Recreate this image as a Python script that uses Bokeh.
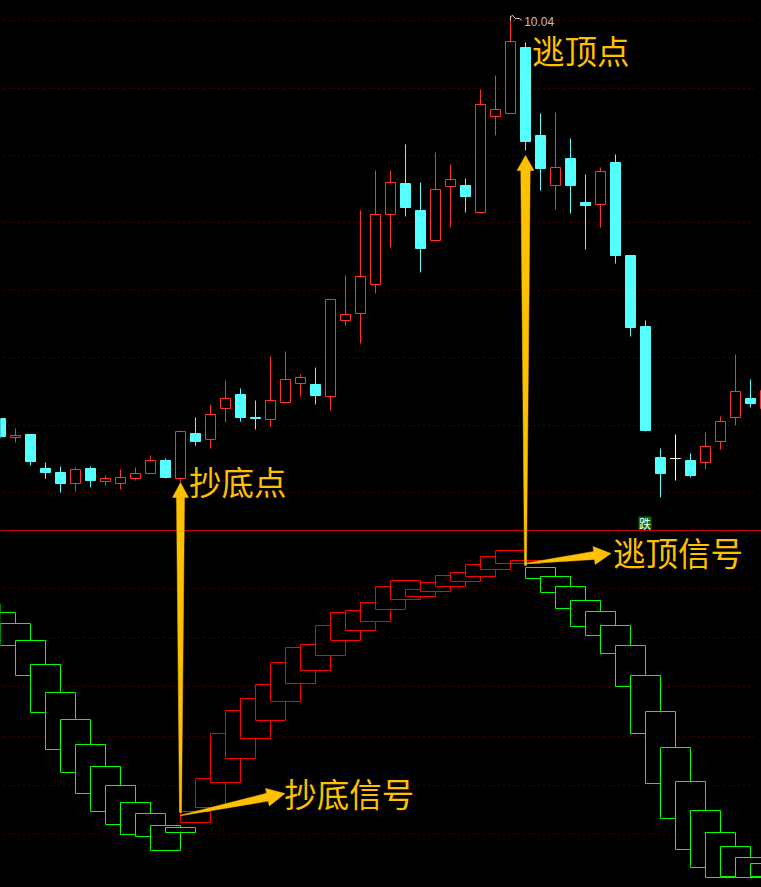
from bokeh.plotting import figure
from bokeh.models import Range1d, GlobalInlineStyleSheet
from bokeh.core.properties import value
from bokeh.embed import file_html
from bokeh.resources import INLINE

# Upper panel: daily candles (bar index = position in these lists)
opens = [6.04,5.85,5.88,5.54,5.50,5.39,5.54,5.41,5.39,5.44,5.49,5.62,5.44,5.89,5.83,6.14,6.28,6.05,6.03,6.20,
         6.39,6.38,6.26,7.02,7.09,7.38,8.08,8.39,8.12,7.82,8.36,8.37,8.10,9.06,9.09,9.75,8.87,8.37,8.64,8.20,
         8.18,8.60,7.67,6.96,5.65,5.64,5.62,5.60,5.81,6.05,6.24,6.14]
closes = [5.86,5.87,5.61,5.50,5.39,5.53,5.42,5.44,5.45,5.49,5.62,5.45,5.91,5.81,6.08,6.24,6.05,6.04,6.22,6.43,
          6.45,6.27,7.23,7.08,7.46,8.08,8.40,8.15,7.74,8.33,8.43,8.26,9.18,9.13,9.81,8.81,8.54,8.55,8.37,8.17,
          8.51,7.67,6.95,5.92,5.49,5.64,5.47,5.76,6.01,6.31,6.19,6.32]
highs = [6.04,5.94,5.88,5.60,5.56,5.55,5.56,5.47,5.53,5.55,5.67,5.64,5.92,6.05,6.18,6.42,6.34,6.22,6.66,6.71,
         6.48,6.55,7.23,7.47,8.12,8.52,8.52,8.78,8.40,8.70,8.58,8.44,9.33,9.47,10.04,9.80,9.09,9.10,8.84,8.48,
         8.55,8.68,7.67,7.02,5.74,5.88,5.69,5.90,6.06,6.68,6.43,6.42]
lows = [5.84,5.80,5.57,5.44,5.30,5.31,5.35,5.37,5.33,5.42,5.49,5.44,5.41,5.77,5.74,6.00,6.01,5.93,5.96,6.20,
        6.26,6.18,6.12,6.97,6.79,7.29,7.75,8.06,7.50,7.82,7.95,8.10,8.10,8.87,9.09,8.72,8.32,8.13,8.09,7.73,
        7.95,7.59,6.86,5.91,5.25,5.42,5.45,5.53,5.73,5.97,6.15,6.12]

# Lower panel: boxes of the signal indicator, first box at bar -1
box_top = [276,268,257,240,216,188,161,136,114,95,78,67,55,53,69,102,147,170,182,196,218,233,236,255,268,270,278,
           294,300,291,298,305,308,316,324,330,320,313,304,294,280,269,255,235,205,169,133,99,70,48,34,23,17]
box_bot = [250,240,235,205,168,131,108,87,69,56,46,44,30,48,58,73,98,122,142,160,179,197,210,225,240,250,259,
           271,281,284,289,294,299,304,311,317,317,302,288,272,254,245,227,194,147,97,62,31,13,3,4,3,4]
first_red_box = 13    # bar index where the boxes turn red
first_green_again = 36

price_grid = [10.02,9.34,8.67,8.00,7.32,6.65,5.97,5.30]
ind_grid = [292,243,194,144,95,46]
divider_price = 4.92

labels = ["抄底点","逃顶点","逃顶信号","抄底信号"]
label_x = [12.57,35.44,40.84,18.91]
label_price = [5.42,9.73,4.71,2.30]

# arrows: start bar, start price, tip bar, tip price, head length, head half width, neck half width, tail half width (px)
arrow_specs = [(12.0,2.10,12.0,5.40,15,8,4,1),
               (12.0,2.07,18.97,2.29,18,9,4,0.3),
               (35.0,4.57,35.0,8.67,15,8.5,4.7,1),
               (35.0,4.59,40.7,4.69,17,9,4,0.3)]

flag_x = [34.0,34.0,34.16,34.31,34.6,34.76]
flag_price = [10.02,10.06,10.07,10.04,10.04,10.02]

RED = "#ff3232"; CYAN = "#54ffff"; WHITE = "#ffffff"
GOLD = "#ffc000"

PX_X = 15.0    # px per bar
PX_Y = 100.0   # px per price unit

p = figure(width=761, height=887, output_backend="svg", toolbar_location=None,
           x_axis_type=None, y_axis_type=None, min_border=0,
           x_range=Range1d(0, 761/15), y_range=Range1d(10.22-8.87, 10.22),
           background_fill_color="#000000", border_fill_color="#000000", outline_line_color=None)
p.grid.visible = False
p.extra_y_ranges = {"ind": Range1d(-7, 880)}
p.stylesheets = [GlobalInlineStyleSheet(css="html,body{margin:0;padding:0;background:#000;overflow:hidden}")]

# grid
p.segment([0.2]*len(price_grid), price_grid, [50.5]*len(price_grid), price_grid,
          line_color="#800000", line_width=1, line_dash="1 4")
p.segment([0.2]*len(ind_grid), ind_grid, [50.5]*len(ind_grid), ind_grid,
          line_color="#800000", line_width=1, line_dash="1 4", y_range_name="ind")
p.segment([-1], [divider_price], [52], [divider_price], line_color="#c80000", line_width=1)

# indicator boxes
bx = list(range(-1, len(box_top)-1))
box_col = ["#ff0000" if first_red_box <= i < first_green_again else "#00ff00" for i in bx]
p.quad(left=[i-1 for i in bx], right=[i+1 for i in bx], top=box_top, bottom=box_bot,
       fill_color="#000000", line_color=box_col, line_width=1, y_range_name="ind")

# candles
idx = list(range(len(opens)))
cols = [WHITE if o == c else (RED if c > o else CYAN) for o, c in zip(opens, closes)]
p.segment(idx, lows, idx, highs, line_color=cols, line_width=1)
tops = [max(o, c) for o, c in zip(opens, closes)]
bots = [min(o, c) for o, c in zip(opens, closes)]
fills = ["#000000" if col == RED else col for col in cols]
p.vbar(x=idx, width=10/15, top=tops, bottom=bots, fill_color=fills, line_color=cols, line_width=1)

# high marker
p.line(flag_x, flag_price, line_color="#d0d0d0", line_width=1)
p.text([34.91], [10.015], text=["10.04"], text_color="#c0c0c0", text_font=value("Liberation Sans"),
       text_font_size="12px", text_baseline="middle", text_align="left")

# signal tag
p.rect([42.97], [4.995], width=13/15, height=0.13, fill_color="#007000", line_color=None)
p.text([42.97], [4.995], text=["跌"], text_color="#ffffff", text_font=value("Noto Sans CJK SC"),
       text_font_size="12px", text_baseline="middle", text_align="center")

# arrows
def arrow_poly(x0, y0, x1, y1, hlen, hw, nw, tw):
    dx = (x1-x0)*PX_X; dy = (y1-y0)*PX_Y
    ln = (dx*dx+dy*dy)**0.5
    ux, uy = dx/ln, dy/ln
    vx, vy = -uy, ux
    bx_, by_ = dx-ux*hlen, dy-uy*hlen
    pts = [(vx*tw, vy*tw), (bx_+vx*nw, by_+vy*nw), (bx_+vx*hw, by_+vy*hw), (dx, dy),
           (bx_-vx*hw, by_-vy*hw), (bx_-vx*nw, by_-vy*nw), (-vx*tw, -vy*tw)]
    return [x0+a/PX_X for a, _ in pts], [y0+b/PX_Y for _, b in pts]

for spec in arrow_specs:
    xs, ys = arrow_poly(*spec)
    p.patch(xs, ys, fill_color=GOLD, line_color=GOLD, line_width=0.5)

# labels
p.text(label_x, label_price, text=labels, text_color=GOLD, text_font=value("Noto Sans CJK SC"),
       text_font_size="32.5px", text_baseline="middle", text_align="left")

open("out.html", "w").write(file_html(p, INLINE))
